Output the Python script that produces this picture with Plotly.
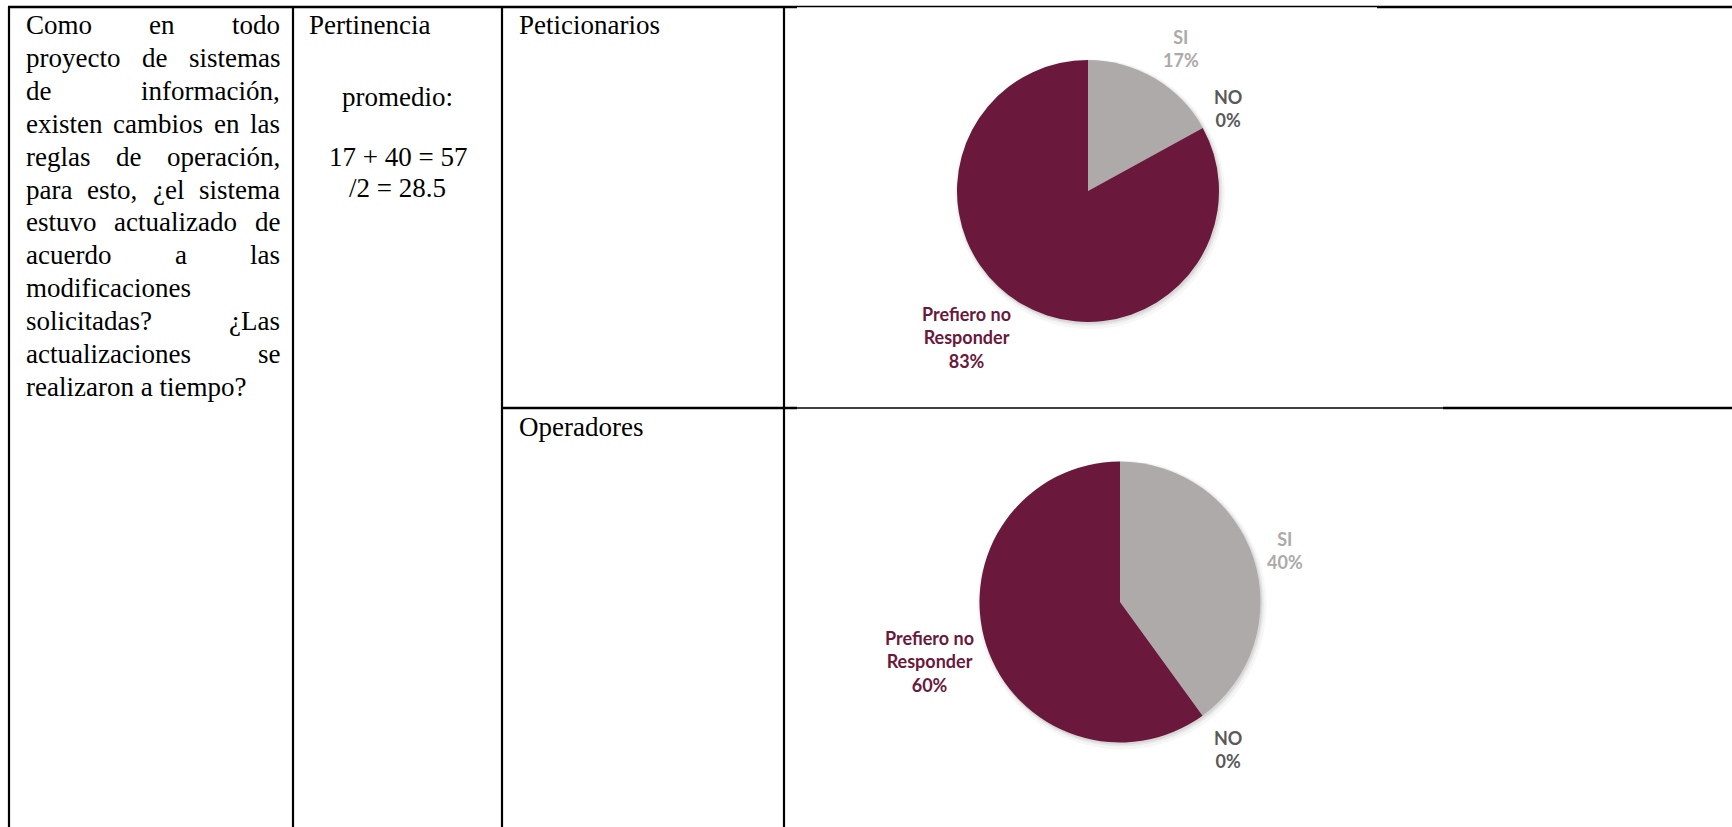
import plotly.graph_objects as go

# ---- data -----------------------------------------------------------------
respuestas = ["SI", "NO", "Prefiero no Responder"]
peticionarios = [17, 0, 83]
operadores = [40, 0, 60]

pregunta_lineas = [
    "Como en todo", "proyecto de sistemas", "de información,", "existen cambios en las",
    "reglas de operación,", "para esto, ¿el sistema", "estuvo actualizado de",
    "acuerdo a las", "modificaciones", "solicitadas? ¿Las", "actualizaciones se",
    "realizaron a tiempo?",
]
pertinencia = ["Pertinencia", "promedio:", "17 + 40 = 57", "/2 = 28.5"]
grupos = ["Peticionarios", "Operadores"]

# ---- layout constants -------------------------------------------------------
W, H = 1732, 827
COL_X = [9, 293, 502, 784]
TOP_Y = 7
ROW_Y = 408
SERIF = "Liberation Serif"
SANS = "Lato"
BODY_SIZE = 27
LABEL_SIZE = 18

C_MAROON = "#6A183B"
C_GRAY = "#AEAAAA"
C_LABEL = ["#ADA9A9", "#595959", "#6A183B"]

# Times-metric advance widths (1/1000 em) used to justify the text column
ADV = dict(zip("abcdefghijklmnopqrstuvwxyz",
               [444, 500, 444, 500, 444, 333, 500, 500, 278, 278, 500, 278, 778,
                500, 500, 500, 500, 333, 389, 278, 500, 500, 722, 500, 500, 444]))
ADV.update({"C": 667, "L": 611, "P": 556, "O": 722, " ": 250, ",": 250, ".": 250,
            "?": 444, "¿": 444, "ó": 500, "á": 444, "é": 444, "í": 278, "ú": 500})


def text_width(s, size):
    return sum(ADV.get(ch, 500) for ch in s) * size / 1000.0


fig = go.Figure()

# ---- pie charts ---------------------------------------------------------------
pies = [
    dict(values=peticionarios, cx=1088, cy=191, r=131,
         label_pos=[(1181, 48), (1228, 108), (966, 337)]),
    dict(values=operadores, cx=1120, cy=602, r=140.5,
         label_pos=[(1285, 550), (1228, 749), (929, 661)]),
]


def domain(cx, cy, r):
    return dict(x=[(cx - r) / W, (cx + r) / W], y=[1 - (cy + r) / H, 1 - (cy - r) / H])


for p in pies:
    # soft drop shadow under each pie
    for grow, dx, dy, alpha in [(4, 2, 3, 0.035), (2, 1.5, 2, 0.05), (0.8, 1, 1.5, 0.07)]:
        fig.add_trace(go.Pie(values=[1], labels=["s"], domain=domain(p["cx"] + dx, p["cy"] + dy, p["r"] + grow),
                             marker=dict(colors=[f"rgba(0,0,0,{alpha})"], line=dict(width=0)),
                             textinfo="none", hoverinfo="skip", sort=False, showlegend=False))
    fig.add_trace(go.Pie(
        labels=respuestas, values=p["values"], domain=domain(p["cx"], p["cy"], p["r"]),
        marker=dict(colors=[C_GRAY, C_GRAY, C_MAROON], line=dict(width=0)),
        textinfo="none", sort=False, direction="clockwise", rotation=0, showlegend=False,
    ))
    total = sum(p["values"])
    for lab, val, (lx, ly), col in zip(respuestas, p["values"], p["label_pos"], C_LABEL):
        txt = lab.replace("no ", "no<br>") + f"<br>{round(100 * val / total)}%"
        fig.add_annotation(x=lx, y=ly, text=txt, showarrow=False, xanchor="center", yanchor="middle",
                           align="center", font=dict(family=SANS, size=LABEL_SIZE, color=col, weight="bold"))

# ---- table rules ------------------------------------------------------------------
def hline(x0, x1, y, w):
    fig.add_shape(type="line", x0=x0, x1=x1, y0=y, y1=y, xref="x", yref="y",
                  line=dict(color="black", width=w))


def vline(x, y0, y1, w=2.2):
    fig.add_shape(type="line", x0=x, x1=x, y0=y0, y1=y1, xref="x", yref="y",
                  line=dict(color="black", width=w))


hline(COL_X[0] - 1, 797, TOP_Y, 2.5)
hline(797, 1377, TOP_Y - 0.5, 1.5)
hline(1377, W, TOP_Y, 2.5)
hline(COL_X[2] - 1, 797, ROW_Y, 2.5)
hline(797, 1443, ROW_Y, 1.5)
hline(1443, W, ROW_Y, 2.5)
for x in COL_X:
    vline(x, TOP_Y, H)

# ---- question column (justified) ----------------------------------------------------
LEFT, RIGHT = 24, 278
LINE0, LEAD = 25, 32.9
for i, line in enumerate(pregunta_lineas):
    y = LINE0 + i * LEAD
    words = line.split(" ")
    last = i == len(pregunta_lineas) - 1
    if len(words) == 1 or last:
        fig.add_annotation(x=LEFT, y=y, text=line, showarrow=False, xanchor="left", yanchor="middle",
                           font=dict(family=SERIF, size=BODY_SIZE, color="black"))
        continue
    widths = [text_width(w_, BODY_SIZE) for w_ in words]
    gap = (RIGHT - LEFT - sum(widths)) / (len(words) - 1)
    x = LEFT
    for w_, ww in zip(words, widths):
        fig.add_annotation(x=x, y=y, text=w_, showarrow=False, xanchor="left", yanchor="middle",
                           font=dict(family=SERIF, size=BODY_SIZE, color="black"))
        x += ww + gap

# ---- pertinence column -----------------------------------------------------------------
fig.add_annotation(x=307, y=25, text=pertinencia[0], showarrow=False, xanchor="left", yanchor="middle",
                   font=dict(family=SERIF, size=BODY_SIZE, color="black"))
mid = (COL_X[1] + COL_X[2]) / 2
for txt, y in zip(pertinencia[1:], [97, 157, 188]):
    fig.add_annotation(x=mid, y=y, text=txt, showarrow=False, xanchor="center", yanchor="middle",
                       font=dict(family=SERIF, size=BODY_SIZE, color="black"))

# ---- group labels ---------------------------------------------------------------------------
for g, y in zip(grupos, [25, 427]):
    fig.add_annotation(x=517, y=y, text=g, showarrow=False, xanchor="left", yanchor="middle",
                       font=dict(family=SERIF, size=BODY_SIZE, color="black"))

fig.update_layout(
    width=W, height=H, margin=dict(l=0, r=0, t=0, b=0),
    paper_bgcolor="white", plot_bgcolor="rgba(0,0,0,0)", showlegend=False,
    xaxis=dict(range=[0, W], visible=False, fixedrange=True),
    yaxis=dict(range=[H, 0], visible=False, fixedrange=True),
)

fig.write_html("out.html", config={"displayModeBar": False})
